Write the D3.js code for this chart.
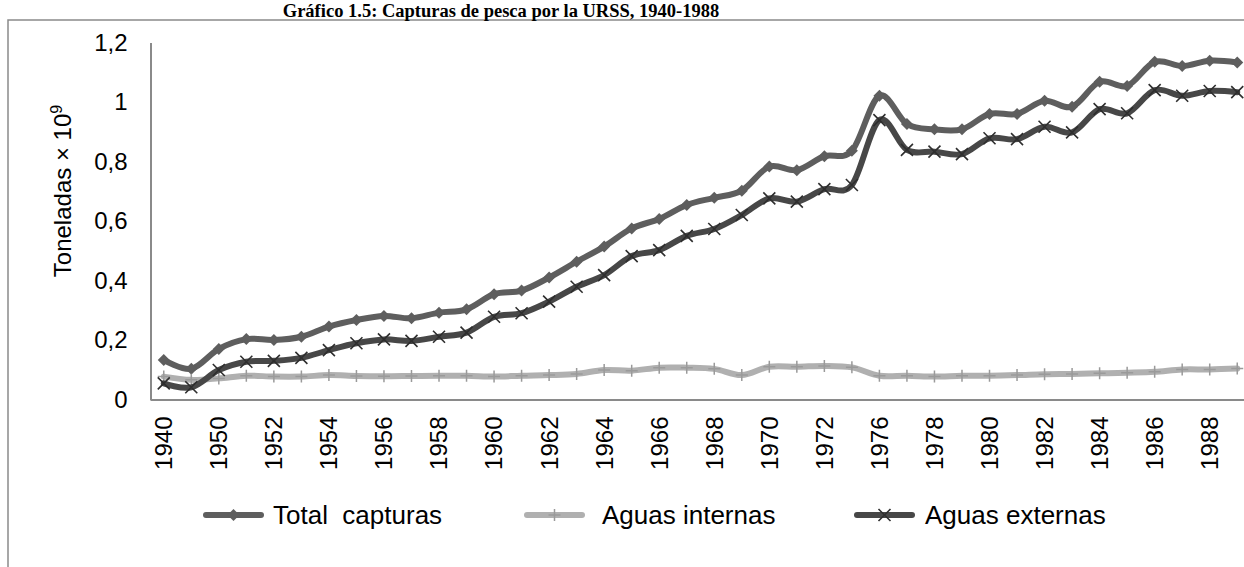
<!DOCTYPE html>
<html lang="es">
<head>
<meta charset="UTF-8">
<title>Capturas de pesca URSS</title>
<script src="https://cdnjs.cloudflare.com/ajax/libs/d3/7.8.5/d3.min.js"></script>
<style>
  html, body { margin: 0; padding: 0; background: #fff; }
  svg { display: block; }
  text { font-family: "Liberation Sans", Arial, sans-serif; fill: #000; }
  .legend text { white-space: pre; }
</style>
</head>
<body>
<svg id="chart" width="1244" height="567"></svg>
<script>
// years on the category axis (1945 and 1975 stand alone)
var years = [1940, 1945, 1950, 1951, 1952, 1953, 1954, 1955, 1956, 1957, 1958, 1959,
  1960, 1961, 1962, 1963, 1964, 1965, 1966, 1967, 1968, 1969, 1970, 1971, 1972,
  1975, 1976, 1977, 1978, 1979, 1980, 1981, 1982, 1983, 1984, 1985, 1986, 1987, 1988, 1989];

var totalCapturas = [0.133, 0.103, 0.17, 0.203, 0.2, 0.211, 0.245, 0.267, 0.281, 0.273,
  0.292, 0.303, 0.354, 0.366, 0.41, 0.463, 0.514, 0.575, 0.607, 0.654,
  0.678, 0.702, 0.783, 0.771, 0.818, 0.836, 1.021, 0.926, 0.908, 0.908,
  0.96, 0.96, 1.004, 0.984, 1.068, 1.054, 1.135, 1.121, 1.139, 1.133];

var aguasInternas = [0.077, 0.066, 0.071, 0.08, 0.077, 0.077, 0.082, 0.079, 0.078, 0.079,
  0.08, 0.08, 0.077, 0.08, 0.082, 0.086, 0.099, 0.097, 0.107, 0.107,
  0.103, 0.082, 0.11, 0.11, 0.113, 0.108, 0.08, 0.08, 0.077, 0.08,
  0.08, 0.082, 0.085, 0.086, 0.088, 0.09, 0.093, 0.101, 0.101, 0.104];

var aguasExternas = [0.054, 0.041, 0.099, 0.127, 0.13, 0.14, 0.166, 0.189, 0.202, 0.197,
  0.211, 0.225, 0.278, 0.29, 0.329, 0.379, 0.418, 0.482, 0.502, 0.55,
  0.573, 0.62, 0.676, 0.665, 0.707, 0.721, 0.939, 0.839, 0.833, 0.825,
  0.878, 0.875, 0.917, 0.898, 0.976, 0.962, 1.04, 1.021, 1.037, 1.033];

var yTicks = [0, 0.2, 0.4, 0.6, 0.8, 1, 1.2];
var xLabels = years.filter(function (d, i) { return i % 2 === 0; });

var series = [
  { name: "Total  capturas", values: totalCapturas, color: "#5e5e5e", marker: "diamond", legendX: 206, textX: 273 },
  { name: "Aguas internas", values: aguasInternas, color: "#b0b0b0", marker: "plus", legendX: 527, textX: 602 },
  { name: "Aguas externas", values: aguasExternas, color: "#474747", marker: "cross", legendX: 857, textX: 925 }
];

var svg = d3.select("#chart");

var x = d3.scaleBand().domain(years).range([150, 1251]).padding(0);
var y = d3.scaleLinear().domain([0, 1.2]).range([399.5, 42.5]);
var cx = function (d) { return x(d) + x.bandwidth() / 2; };

var locale = d3.formatLocale({ decimal: ",", thousands: ".", grouping: [3], currency: ["", ""] });
var fmt = locale.format("~g");

// chart area border
svg.append("rect")
  .attr("x", 8).attr("y", 20)
  .attr("width", 1260).attr("height", 580)
  .attr("fill", "none")
  .attr("stroke", "#8a8a8a")
  .attr("stroke-width", 1.5);

// title
svg.append("text")
  .attr("x", 501)
  .attr("y", 17)
  .attr("text-anchor", "middle")
  .style("font-family", "'Liberation Serif', 'Times New Roman', serif")
  .style("font-weight", "bold")
  .style("font-size", "18.5px")
  .text("Gráfico 1.5: Capturas de pesca por la URSS, 1940-1988");

// y axis
var yAxis = svg.append("g")
  .attr("transform", "translate(150.5,0)")
  .call(d3.axisLeft(y).tickValues(yTicks).tickSize(0).tickPadding(23).tickFormat(fmt));
yAxis.select(".domain").attr("stroke", "#8a8a8a").attr("stroke-width", 2);
yAxis.selectAll("text").style("font-size", "24px").style("font-family", "'Liberation Sans', Arial, sans-serif");

// x axis
var xAxis = svg.append("g")
  .attr("transform", "translate(0,399.5)")
  .call(d3.axisBottom(x).tickValues(xLabels).tickSize(0).tickFormat(d3.format("d")));
xAxis.select(".domain").attr("stroke", "#8a8a8a").attr("stroke-width", 2);
xAxis.selectAll("text")
  .style("font-size", "24px")
  .style("font-family", "'Liberation Sans', Arial, sans-serif")
  .attr("text-anchor", "end")
  .attr("transform", "rotate(-90)")
  .attr("x", -17)
  .attr("y", 0)
  .attr("dy", "0.35em");

// y label
svg.append("text")
  .attr("transform", "translate(71,191) rotate(-90)")
  .attr("text-anchor", "middle")
  .style("font-size", "24px")
  .text("Toneladas × 10")
  .append("tspan")
  .attr("dy", "-9")
  .style("font-size", "16px")
  .text("9");

// lines
var line = d3.line()
  .x(function (d, i) { return cx(years[i]); })
  .y(function (d) { return y(d); })
  .curve(d3.curveCatmullRom.alpha(0));

function drawMarker(g, type, px, py, color) {
  if (type === "diamond") {
    g.append("path")
      .attr("d", "M" + px + "," + (py - 6) + "L" + (px + 6) + "," + py + "L" + px + "," + (py + 6) + "L" + (px - 6) + "," + py + "Z")
      .attr("fill", color);
  } else if (type === "plus") {
    g.append("path")
      .attr("d", "M" + px + "," + (py - 6) + "V" + (py + 6) + "M" + (px - 6) + "," + py + "H" + (px + 6))
      .attr("stroke", "#9a9a9a").attr("stroke-width", 1.5).attr("fill", "none");
  } else {
    g.append("path")
      .attr("d", "M" + (px - 6) + "," + (py - 6) + "L" + (px + 6) + "," + (py + 6) + "M" + (px - 6) + "," + (py + 6) + "L" + (px + 6) + "," + (py - 6))
      .attr("stroke", "#2e2e2e").attr("stroke-width", 1.6).attr("fill", "none");
  }
}

var plot = svg.append("g");
series.forEach(function (s) {
  var g = plot.append("g");
  g.append("path")
    .datum(s.values)
    .attr("d", line)
    .attr("fill", "none")
    .attr("stroke", s.color)
    .attr("stroke-width", 6)
    .attr("stroke-linejoin", "round")
    .attr("stroke-linecap", "round");
  s.values.forEach(function (v, i) {
    drawMarker(g, s.marker, cx(years[i]), y(v), s.color);
  });
});

// legend
var legend = svg.append("g").attr("class", "legend");
series.forEach(function (s) {
  var lg = legend.append("g");
  lg.append("line")
    .attr("x1", s.legendX).attr("x2", s.legendX + 55)
    .attr("y1", 515).attr("y2", 515)
    .attr("stroke", s.color)
    .attr("stroke-width", 6)
    .attr("stroke-linecap", "round");
  drawMarker(lg, s.marker, s.legendX + 27.5, 515, s.color);
  lg.append("text")
    .attr("x", s.textX)
    .attr("y", 524)
    .attr("xml:space", "preserve")
    .style("font-size", "26px")
    .text(s.name);
});
</script>
</body>
</html>
